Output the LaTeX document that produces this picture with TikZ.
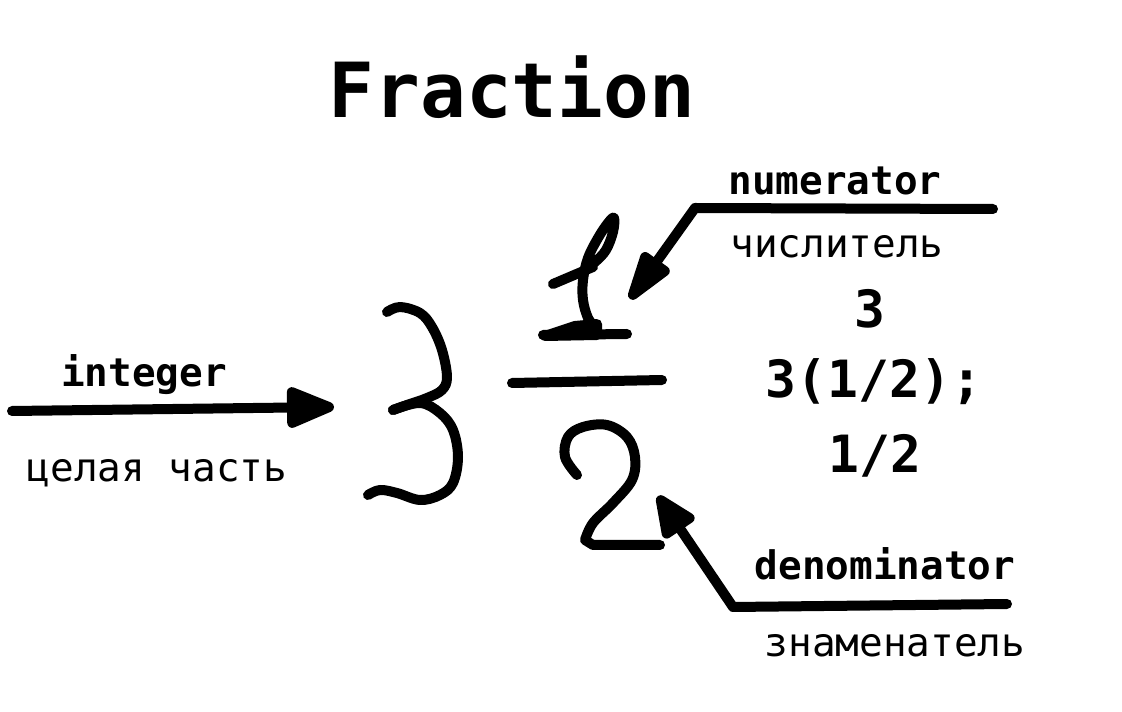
\documentclass[tikz,border=0pt]{standalone}
\usepackage{fontspec}
\setmonofont{DejaVu Sans Mono}
\usetikzlibrary{arrows.meta,positioning}

\begin{document}
\begin{tikzpicture}[
    x=0.75pt, y=-0.75pt,
    ink/.style={line width=7.5pt, line cap=round, line join=round},
    titletext/.style={font=\fontsize{57}{64}\selectfont\ttfamily\bfseries, inner sep=0pt, anchor=base},
    engtext/.style={font=\fontsize{29.5}{34}\selectfont\ttfamily\bfseries, inner sep=0pt, anchor=base},
    rustext/.style={font=\fontsize{29.5}{34}\selectfont\ttfamily, inner sep=0pt, anchor=base},
    numtext/.style={font=\fontsize{38.5}{45}\selectfont\ttfamily\bfseries, inner sep=0pt, anchor=base}
]
\path[fill=white] (0,0) rectangle (1122,712);
\useasboundingbox (0,0) rectangle (1122,712);

% labels
\node[titletext] (title) at (512,118) {Fraction};
\node[engtext] (integer) at (144,387) {integer};
\node[rustext] (integerru) at (157,482) {целая часть};
\node[engtext] (numer) at (835,195) {numerator};
\node[rustext] (numerru) at (837,258) {числитель};
\node[numtext] (whole) at (870,328) {3};
\node[numtext] (mixed) at (874,398) {3(1/2);};
\node[numtext] (plain) at (875,473) {1/2};
\node[engtext] (denom) at (885,580) {denominator};
\node[rustext] (denomru) at (895,657) {знаменатель};

% hand drawn 3 1/2
\draw[ink] plot[smooth, tension=0.6] coordinates {(387,312) (400,307) (420,313) (432,327) (442,350) (447,377) (442,390) (427,398) (407,405) (393,410)};
\draw[ink] plot[smooth, tension=0.6] coordinates {(393,410) (420,403) (440,413) (453,430) (458,457) (453,483) (440,495) (420,500) (397,493) (380,490) (368,495)};
\draw[ink] plot[smooth, tension=0.6] coordinates {(595,327) (588,318) (583,300) (583,280) (588,258) (598,238) (608,223) (614,218) (613,232) (606,250) (595,262) (588,266)};
\draw[ink] (553,284) -- (593,267);
\draw[ink] (543,335) -- (627,334);
\filldraw[ink] (545,336) -- (575,326) -- (597,324) -- (597,335) -- cycle;
\draw[ink] (512,383) -- (662,380);
\draw[ink] plot[smooth, tension=0.6] coordinates {(577,475) (565,457) (568,437) (583,427) (607,425) (627,437) (635,457) (632,480) (613,503) (593,523) (585,540)} -- (593,545) -- (660,545);

% arrows
\coordinate (intstart) at (12,411);
\coordinate (inttip) at (334,407);
\coordinate (numstart) at (993,209);
\coordinate (numbend) at (695,208);
\coordinate (numtip) at (630,299);
\coordinate (denstart) at (1007,604);
\coordinate (denbend) at (733,607);
\coordinate (dentip) at (658,496);
\draw[ink, -{Triangle[round, length=42pt, width=32pt]}] (intstart) -- (inttip);
\draw[ink, -{Triangle[round, length=46pt, width=26pt]}] (numstart) -- (numbend) -- (numtip);
\draw[ink, -{Triangle[round, length=37pt, width=30pt]}] (denstart) -- (denbend) -- (dentip);
\end{tikzpicture}
\end{document}
